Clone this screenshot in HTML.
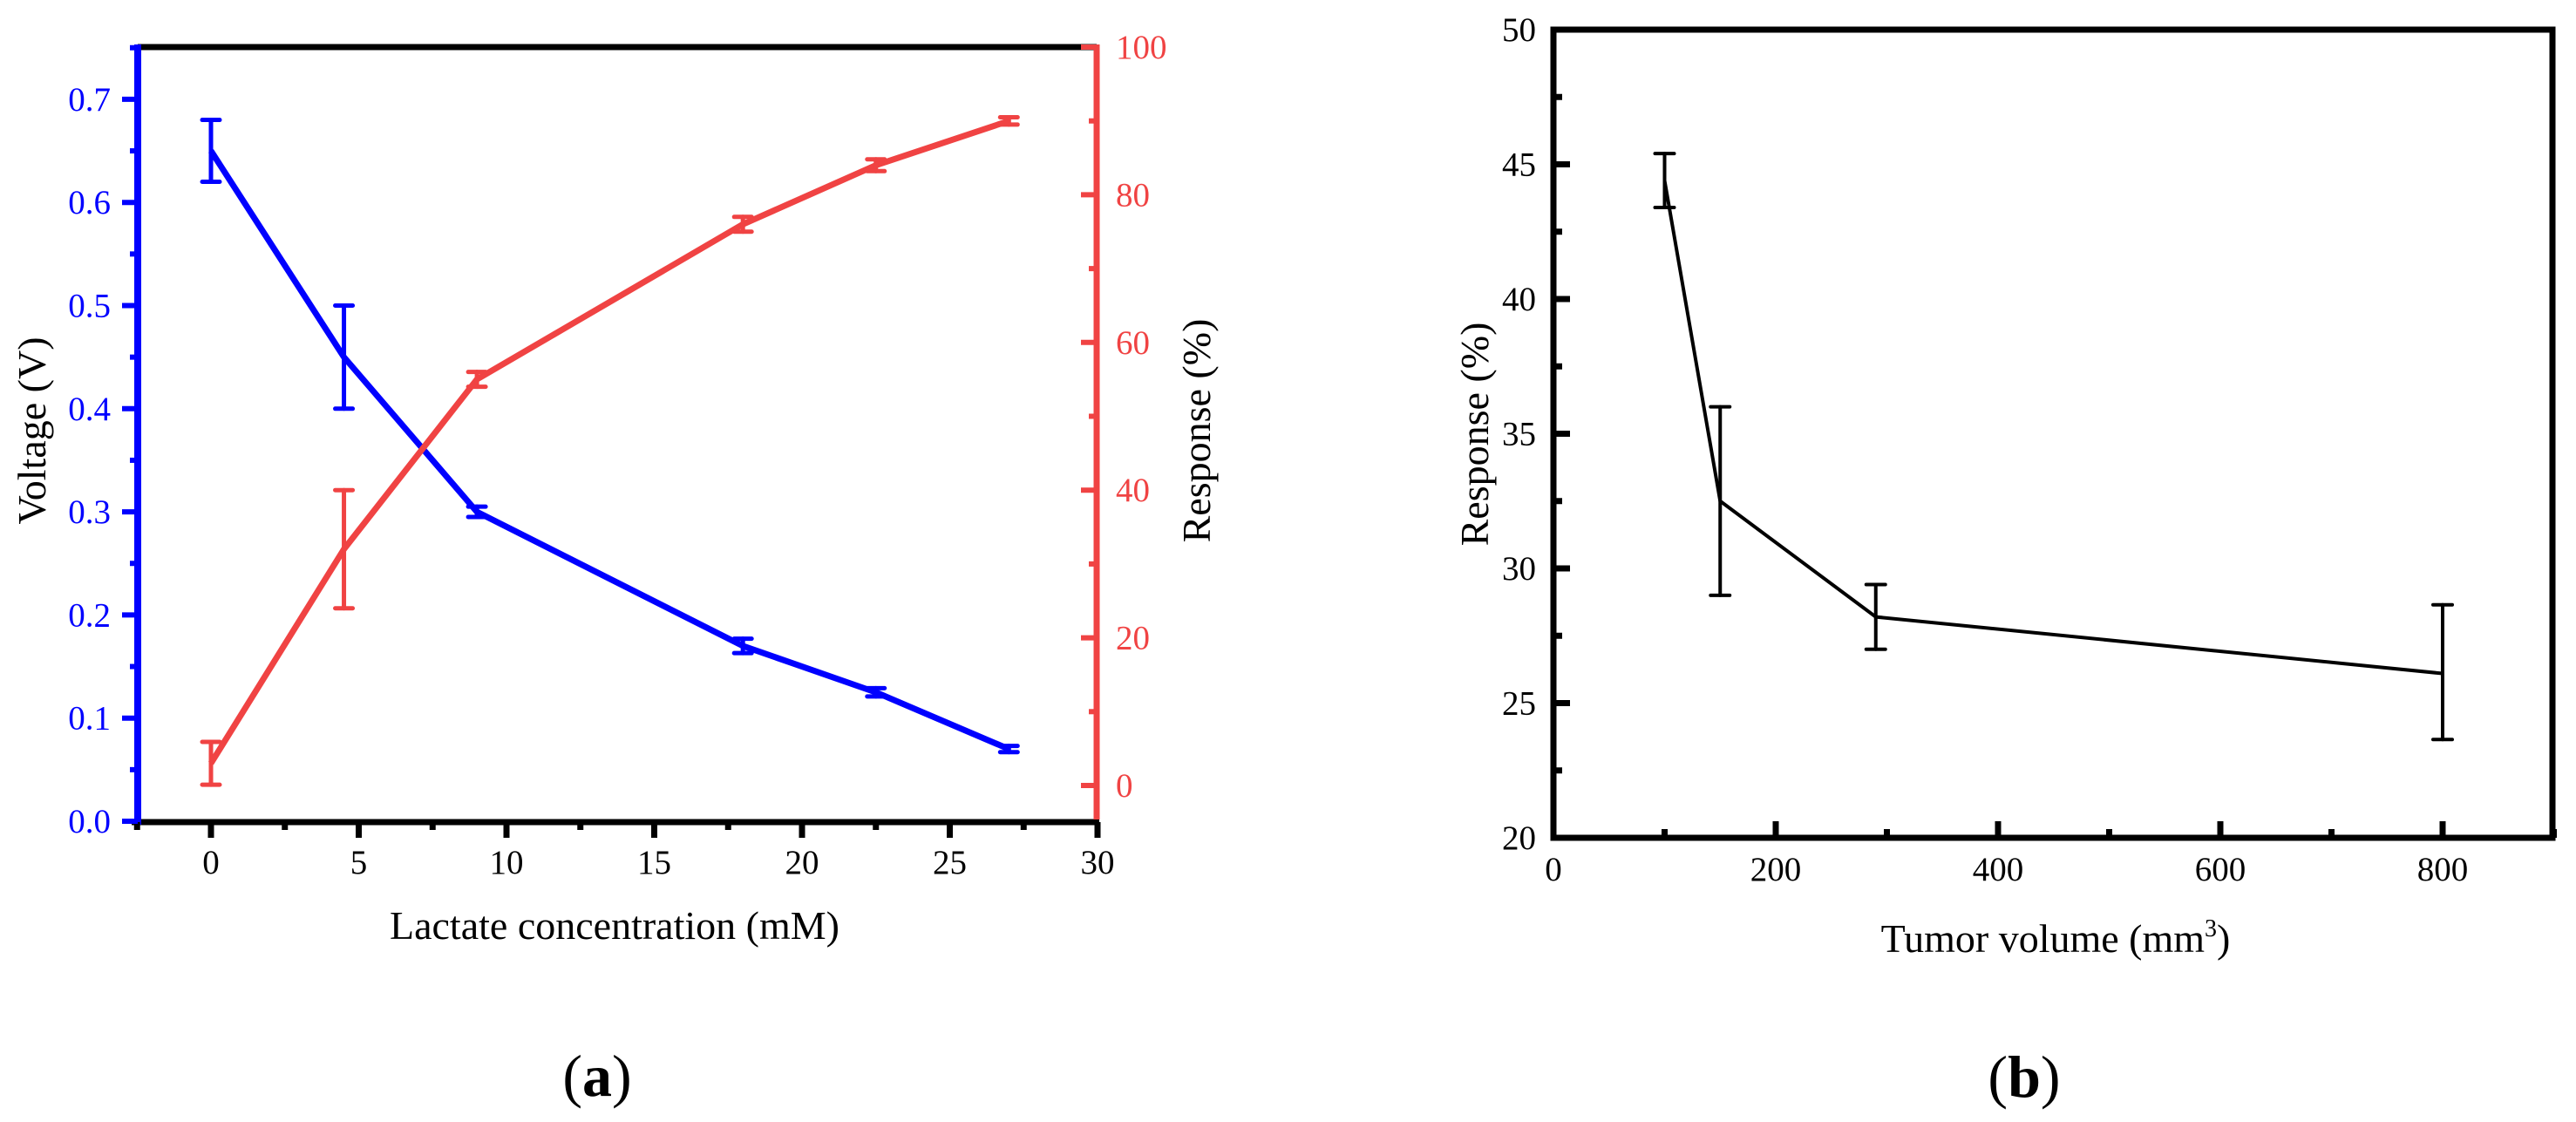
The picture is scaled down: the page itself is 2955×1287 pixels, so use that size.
<!DOCTYPE html>
<html><head><meta charset="utf-8"><style>
html,body{margin:0;padding:0;background:#fff;}
svg{display:block;font-family:"Liberation Serif",serif;}
</style></head><body>
<svg id="fig" width="2955" height="1287" viewBox="0 0 2955 1287" xmlns="http://www.w3.org/2000/svg">
<rect width="2955" height="1287" fill="#fff"/>
<g id="pa"></g>
<g id="pb"></g>
</svg>
<script>
// Panel (a) data
const aX = [0, 4.5, 9, 18, 22.5, 27];
const aVoltage = [0.65, 0.45, 0.30, 0.17, 0.125, 0.07];
const aVoltageErr = [0.03, 0.05, 0.005, 0.007, 0.004, 0.003];
const aResponse = [3, 32, 55, 76, 84, 90];
const aResponseErr = [2.9, 8, 1, 1, 0.8, 0.5];
const aXTicks = [0, 5, 10, 15, 20, 25, 30];
const aVTicks = ["0.0","0.1","0.2","0.3","0.4","0.5","0.6","0.7"];
const aRTicks = [0, 20, 40, 60, 80, 100];
// Panel (b) data
const bX = [100, 150, 290, 800];
const bResponse = [44.4, 32.5, 28.2, 26.1];
const bErrLow = [43.4, 29.0, 27.0, 23.65];
const bErrHigh = [45.4, 36.0, 29.4, 28.65];
const bXTicks = [0, 200, 400, 600, 800];
const bYTicks = [20, 25, 30, 35, 40, 45, 50];

const NS = "http://www.w3.org/2000/svg";
function mk(parent, tag, attrs, text){
  const e = document.createElementNS(NS, tag);
  for (const k in attrs) e.setAttribute(k, attrs[k]);
  if (text !== undefined) e.textContent = text;
  parent.appendChild(e);
  return e;
}
const RED = "#f04343", BLUE = "#0000ff";

// ---------- Panel A ----------
const pa = document.getElementById("pa");
const aL = 158, aR = 1258, aT = 54, aB = 943;
const ax = v => 242 + v * 33.9;
const ayV = v => 942 - v * 1183;
const ayR = v => 901 - v * 8.47;

// spines
let e;
e = mk(pa, "line", {x1: aL, y1: aT, x2: aR, y2: aT, stroke: "#000", "stroke-width": 7});
 
e = mk(pa, "line", {x1: 151, y1: aB, x2: aR + 3, y2: aB, stroke: "#000", "stroke-width": 7});
 
e = mk(pa, "line", {x1: aL, y1: 51, x2: aL, y2: 946, stroke: BLUE, "stroke-width": 8});
 
e = mk(pa, "line", {x1: aR, y1: 51, x2: aR, y2: 940, stroke: RED, "stroke-width": 7});
 

// x ticks
for (let v = -2.5; v <= 30.01; v += 2.5) {
  const major = Math.abs(v % 5) < 0.01;
  e = mk(pa, "line", {x1: ax(v), y1: aB, x2: ax(v), y2: aB + (major ? 18 : 9), stroke: "#000", "stroke-width": 7});
   
}
aXTicks.forEach(v => {
  e = mk(pa, "text", {x: ax(v), y: 1002, "font-size": 39, "text-anchor": "middle", fill: "#000"}, String(v));
   
});
// voltage ticks
for (let i = 0; i <= 15; i++) {
  const v = i * 0.05, major = i % 2 === 0;
  e = mk(pa, "line", {x1: aL, y1: ayV(v), x2: aL - (major ? 18 : 9), y2: ayV(v), stroke: BLUE, "stroke-width": 6});
   
}
aVTicks.forEach(t => {
  e = mk(pa, "text", {x: 127, y: ayV(parseFloat(t)) + 13, "font-size": 39, "text-anchor": "end", fill: BLUE}, t);
   
});
// response ticks
for (let v = 0; v <= 100; v += 10) {
  const major = v % 20 === 0;
  e = mk(pa, "line", {x1: aR, y1: ayR(v), x2: aR - (major ? 18 : 9), y2: ayR(v), stroke: RED, "stroke-width": 6});
   
}
aRTicks.forEach(v => {
  e = mk(pa, "text", {x: 1280, y: ayR(v) + 13, "font-size": 39, "text-anchor": "start", fill: RED}, String(v));
   
});
// titles
e = mk(pa, "text", {x: 0, y: 0, "font-size": 46, "text-anchor": "middle", transform: "translate(52,494) rotate(-90)"}, "Voltage (V)");
 
e = mk(pa, "text", {x: 0, y: 0, "font-size": 46, "text-anchor": "middle", transform: "translate(1388,494) rotate(-90)"}, "Response (%)");
 
e = mk(pa, "text", {x: 705, y: 1077, "font-size": 46, "text-anchor": "middle"}, "Lactate concentration (mM)");
 
e = mk(pa, "text", {x: 685, y: 1257, "font-size": 68, "text-anchor": "middle"});
 
e.innerHTML = '(<tspan font-weight="bold">a</tspan>)';

function series(parent, xs, ys, lo, hi, fx, fy, color, lw, ew, cap, name){
  const pts = xs.map((x, i) => fx(x) + "," + fy(ys[i])).join(" ");
  const pl = mk(parent, "polyline", {points: pts, fill: "none", stroke: color, "stroke-width": lw, "stroke-linejoin": "round"});
   
  xs.forEach((x, i) => {
    const g = mk(parent, "g", {stroke: color, "stroke-width": ew, "stroke-linecap": "round"});
     
    const X = fx(x), Y1 = fy(lo[i]), Y2 = fy(hi[i]);
    mk(g, "line", {x1: X, y1: Y1, x2: X, y2: Y2});
    mk(g, "line", {x1: X - cap, y1: Y1, x2: X + cap, y2: Y1});
    mk(g, "line", {x1: X - cap, y1: Y2, x2: X + cap, y2: Y2});
  });
}
series(pa, aX, aVoltage, aVoltage.map((v, i) => v - aVoltageErr[i]), aVoltage.map((v, i) => v + aVoltageErr[i]), ax, ayV, BLUE, 7, 5, 10, 'voltage');
series(pa, aX, aResponse, aResponse.map((v, i) => v - aResponseErr[i]), aResponse.map((v, i) => v + aResponseErr[i]), ax, ayR, RED, 7, 5, 10, 'response-a');

// ---------- Panel B ----------
const pb = document.getElementById("pb");
const bL = 1782, bR = 2928, bT = 34, bB = 961;
const bx = v => bL + v * 1.275;
const by = v => bB - (v - 20) * 30.9;
e = mk(pb, "rect", {x: bL, y: bT, width: bR - bL, height: bB - bT, fill: "none", stroke: "#000", "stroke-width": 7});
 
for (let v = 100; v <= 900; v += 100) {
  const major = v % 200 === 0;
  e = mk(pb, "line", {x1: bx(v), y1: bB, x2: bx(v), y2: bB - (major ? 19 : 10), stroke: "#000", "stroke-width": 7});
   
}
bXTicks.forEach(v => {
  e = mk(pb, "text", {x: bx(v), y: 1010, "font-size": 39, "text-anchor": "middle"}, String(v));
   
});
for (let v = 22.5; v < 50; v += 2.5) {
  const major = v % 5 === 0;
  e = mk(pb, "line", {x1: bL, y1: by(v), x2: bL + (major ? 19 : 10), y2: by(v), stroke: "#000", "stroke-width": 7});
   
}
bYTicks.forEach(v => {
  e = mk(pb, "text", {x: 1762, y: by(v) + 13, "font-size": 39, "text-anchor": "end"}, String(v));
   
});
e = mk(pb, "text", {x: 0, y: 0, "font-size": 46, "text-anchor": "middle", transform: "translate(1707,498) rotate(-90)"}, "Response (%)");
 
e = mk(pb, "text", {x: 2358, y: 1092, "font-size": 46, "text-anchor": "middle"});
 
e.innerHTML = 'Tumor volume (mm<tspan font-size="28" dy="-18">3</tspan><tspan dy="18">)</tspan>';
e = mk(pb, "text", {x: 2322, y: 1258, "font-size": 68, "text-anchor": "middle"});
 
e.innerHTML = '(<tspan font-weight="bold">b</tspan>)';
series(pb, bX, bResponse, bErrLow, bErrHigh, bx, by, "#000", 4, 4, 11, 'response-b');
</script>
</body></html>
